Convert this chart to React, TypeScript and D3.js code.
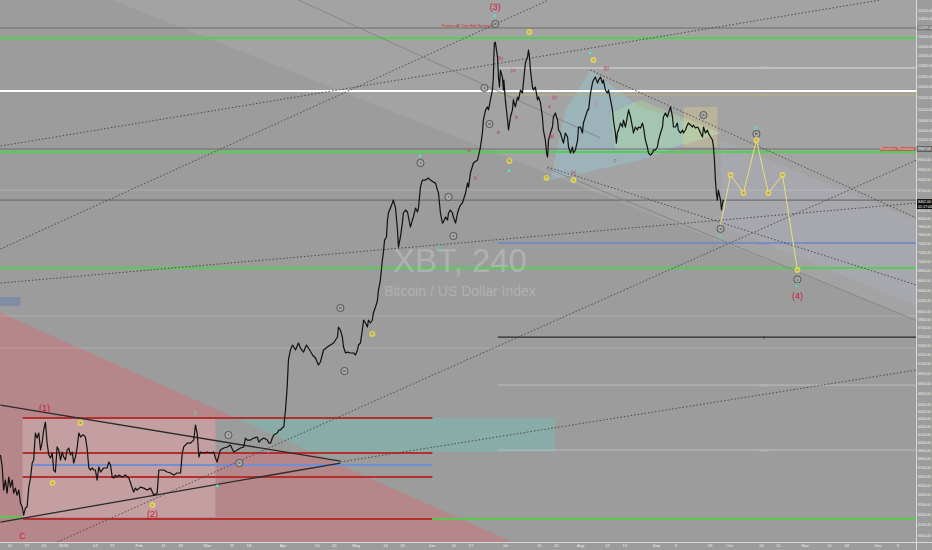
import React from 'react';
import * as d3 from 'd3';

const W = 932;
const H = 550;
const PW = 916;
const PH = 542;
const DAY = 86400000;
const T0 = Date.UTC(2019, 0, 1);
const toDate = (d: number) => new Date(T0 + d * DAY);

// XBT 4h close, [days since 2019-01-01, price]
const priceSeries: [number, number][] = [
  [-25.8, 3849], [-25.1, 3710], [-24.5, 3454], [-23.8, 3562], [-23.1, 3420], [-22.4, 3595], [-21.7, 3486],
  [-21.0, 3562], [-20.4, 3420], [-19.7, 3475], [-19.0, 3401], [-18.3, 3454], [-17.6, 3318], [-16.9, 3278],
  [-16.3, 3197], [-15.6, 3267], [-14.9, 3278], [-14.2, 3486], [-13.5, 3584], [-12.8, 3755], [-12.2, 3790],
  [-11.5, 4120], [-10.8, 4056], [-10.1, 4120], [-9.4, 3909], [-8.7, 4006], [-8.1, 4158], [-7.4, 4262],
  [-6.7, 3994], [-6.0, 3849], [-5.3, 3814], [-4.6, 3873], [-4.0, 3675], [-3.3, 3652], [-2.6, 3946],
  [-1.9, 3909], [-1.2, 3790], [-0.5, 3885], [0.1, 3825], [0.8, 3790], [1.5, 3909], [2.2, 3933], [2.9, 3849],
  [3.6, 3885], [4.2, 3755], [4.9, 3825], [5.6, 3933], [6.3, 4120], [7.0, 4069], [7.7, 4094], [8.3, 4094],
  [9.0, 4069], [9.7, 3933], [10.4, 3698], [11.1, 3675], [11.8, 3698], [12.4, 3675], [13.1, 3675], [13.8, 3562],
  [14.5, 3710], [15.2, 3652], [16.5, 3698], [17.9, 3698], [18.6, 3767], [19.3, 3732], [20.0, 3595], [20.6, 3584],
  [21.3, 3618], [22.0, 3595], [22.7, 3618], [24.1, 3595], [25.4, 3618], [26.8, 3584], [27.5, 3530], [28.2, 3475],
  [28.8, 3433], [29.5, 3475], [30.2, 3454], [31.6, 3486], [32.9, 3475], [34.3, 3454], [35.7, 3475], [37.0, 3401],
  [38.4, 3420], [39.1, 3675], [41.1, 3675], [42.5, 3652], [43.9, 3641], [45.2, 3618], [46.6, 3641], [48.0, 3641],
  [48.7, 3873], [49.3, 3946], [50.7, 3994], [52.1, 3994], [53.4, 4031], [54.1, 4223], [54.8, 4120], [55.5, 3825],
  [56.1, 3885], [57.5, 3873], [58.9, 3885], [60.2, 3873], [61.6, 3885], [62.3, 3814], [63.0, 3767], [63.7, 3849],
  [64.3, 3909], [65.7, 3933], [67.1, 3946], [68.4, 3970], [69.8, 3885], [71.2, 3909], [72.6, 3933], [73.9, 3946],
  [74.6, 4056], [75.3, 4031], [76.7, 4031], [78.0, 4056], [79.4, 4069], [80.1, 4006], [80.8, 4031], [82.1, 4056],
  [83.5, 4031], [84.2, 3994], [84.9, 3994], [85.6, 4056], [86.2, 4094], [87.6, 4120], [88.3, 4158], [88.9, 4158],
  [89.6, 4184], [90.3, 4197], [91.0, 4423], [91.7, 4749], [92.2, 5162], [93.0, 5324], [93.9, 5407], [95.1, 5324],
  [96.3, 5440], [97.1, 5357], [98.4, 5290], [99.6, 5407], [100.9, 5324], [102.1, 5243], [103.3, 5194], [104.5, 5083],
  [105.3, 5130], [106.6, 5324], [108.2, 5374], [109.4, 5407], [110.7, 5440], [112.3, 5542], [112.7, 5716],
  [113.5, 5663], [114.3, 5542], [114.8, 5374], [115.6, 5275], [116.4, 5290], [117.6, 5275], [118.9, 5275],
  [119.7, 5243], [120.5, 5324], [120.9, 5407], [121.7, 5440], [122.5, 5663], [123.0, 5841], [123.8, 5787],
  [124.6, 5716], [125.0, 5841], [125.8, 5787], [126.6, 5841], [127.0, 5968], [127.9, 6080], [128.7, 6213],
  [129.1, 6408], [129.9, 6609], [130.3, 6817], [130.7, 7030], [131.1, 7185], [131.6, 7478], [132.4, 7550],
  [132.8, 7955], [133.2, 8130], [134.0, 8256], [134.8, 8385], [135.2, 8462], [136.1, 8256], [136.9, 7714],
  [137.3, 7318], [138.1, 7550], [138.9, 7880], [139.3, 8130], [140.2, 8205], [141.0, 8155], [141.4, 8030],
  [142.2, 7785], [143.0, 7955], [143.4, 8030], [144.3, 8256], [145.1, 8155], [145.5, 8256], [146.3, 8808],
  [147.1, 9000], [148.4, 9000], [149.6, 9056], [150.4, 9000], [151.6, 8945], [152.5, 8917], [153.3, 8727],
  [153.7, 8647], [154.5, 8130], [155.3, 7880], [155.7, 7905], [156.6, 8030], [157.4, 7955], [157.8, 8130],
  [158.6, 8205], [159.4, 8130], [159.8, 8030], [160.7, 7880], [161.5, 8130], [161.9, 8205], [162.7, 8332],
  [163.5, 8385], [163.9, 8462], [164.8, 8647], [165.6, 8917], [166.0, 8808], [166.8, 9198], [168.0, 9487],
  [169.7, 9575], [170.9, 9968], [171.7, 10409], [172.1, 10835], [173.0, 11179], [173.8, 11283], [174.2, 11179],
  [175.0, 11530], [175.8, 11887], [176.2, 12372], [176.4, 13160], [176.6, 13740], [177.0, 13785], [177.9, 13160],
  [178.3, 12372], [178.7, 11998], [179.1, 12643], [179.9, 12372], [180.3, 11887], [180.5, 12260], [181.1, 11530],
  [182.0, 10835], [182.4, 10506], [183.2, 10938], [184.0, 11179], [184.4, 11530], [185.2, 11283], [186.1, 11634],
  [186.5, 11530], [187.3, 11887], [188.1, 11777], [188.5, 12145], [189.3, 12920], [190.2, 13160], [190.6, 13448],
  [191.0, 13160], [191.4, 12643], [192.2, 11998], [192.6, 11887], [193.4, 11998], [194.3, 11530], [194.7, 11634],
  [195.5, 11423], [196.3, 10938], [196.7, 10506], [197.5, 10185], [198.0, 9785], [198.4, 9664], [198.8, 10185],
  [199.6, 10409], [200.4, 10604], [200.8, 10938], [201.6, 11075], [202.5, 10835], [202.9, 10506], [203.7, 10409],
  [204.5, 10185], [204.9, 10090], [205.7, 10409], [206.6, 10281], [207.0, 9968], [207.8, 9785], [208.6, 9968],
  [209.0, 9785], [209.8, 9876], [210.7, 10185], [211.1, 10604], [211.9, 10604], [212.7, 10409], [213.1, 10735],
  [213.9, 10938], [214.8, 11179], [215.2, 11179], [216.0, 11777], [216.8, 12145], [217.2, 12260], [218.0, 12372],
  [218.9, 12145], [219.3, 12260], [220.1, 12372], [220.9, 12145], [221.3, 12260], [222.1, 11887], [223.0, 11777],
  [223.4, 11887], [224.2, 11530], [225.0, 11179], [225.4, 10835], [226.2, 10409], [226.6, 10090], [227.0, 10409],
  [227.5, 10506], [228.3, 10735], [229.1, 10604], [229.5, 10835], [230.3, 10604], [231.1, 10938], [231.6, 11179],
  [232.4, 10938], [233.2, 10604], [233.6, 10409], [234.4, 10604], [235.2, 10506], [235.7, 10604], [236.5, 10571],
  [237.3, 10735], [237.7, 10604], [238.5, 10185], [239.3, 9968], [239.8, 9785], [240.6, 9724], [241.4, 9785],
  [241.8, 9876], [242.6, 9876], [243.4, 9968], [243.9, 10185], [244.7, 10409], [245.5, 10604], [245.9, 10938],
  [246.7, 11075], [247.5, 10938], [248.0, 11075], [248.8, 11283], [249.6, 10938], [250.0, 10604], [250.8, 10604],
  [251.6, 10735], [252.0, 10506], [252.9, 10409], [253.7, 10506], [254.1, 10409], [254.9, 10506], [255.7, 10669],
  [256.1, 10735], [257.0, 10669], [257.8, 10604], [258.2, 10669], [259.0, 10571], [259.8, 10604], [260.2, 10571],
  [261.1, 10409], [261.9, 10281], [262.3, 10604], [263.1, 10409], [263.9, 10506], [264.3, 10409], [265.2, 10281],
  [266.0, 10185], [266.4, 9968], [266.8, 9575], [267.2, 9000], [267.6, 8647], [268.0, 8462], [268.4, 8727],
  [269.3, 8462], [269.7, 8205], [270.1, 8385], [270.5, 8462],
];

// projected wave (4) path
const forecastPath: [number, number][] = [
  [269.3, 7833], [273.4, 9142], [278.7, 8647], [284.0, 10185], [288.9, 8647], [294.7, 9142], [300.8, 6817],
];

// horizontal levels
const grayLevels = [14399, 9907, 8462];
const greenLevels = [13960, 9815, 6859];
const whiteLevels = [11852];
const faintLevels = [8727, 5914, 5357];
const fibLevels = [12725, 11706, 7410, 5542, 4778, 3909];
const fibLabels = ['0.236', '0.382', '0.786', '1', '1.272', '1.618'];
const fibStart = 178;
const rangeBoxLevels = [4315, 3873, 3596, 3158];
const rangeMidLevel = 3732;
const rangeStart = -16.7;
const rangeEnd = 151.2;
const bottomSupport = 3158;

// trend / fan lines, [day, price] pairs
const dottedLines: [number, number][][] = [
  [[-25.8, 9999], [334.8, 15700]],
  [[-25.8, 7275], [198.8, 15700]],
  [[-2.5, 2942], [349.6, 9575]],
  [[113.5, 3767], [349.6, 5005]],
  [[-25.8, 6548], [349.6, 8384]],
  [[216.0, 12643], [349.6, 8006]],
  [[198.4, 9371], [349.6, 6508]],
];
const thinLines: [number, number][][] = [
  [[96.3, 15700], [220.1, 10250]],
  [[198.0, 9343], [356.0, 5715]],
];
const triangleLines: [number, number][][] = [
  [[-25.8, 4491], [113.5, 3777]],
  [[-25.8, 3129], [113.5, 3755]],
];

// shaded zones
const upperZone: [number, number][] = [[-6.6, 17000], [360, 17000], [360, 5663]];
const redZone: [number, number][] = [[-30, 6062], [184.0, 2942], [190, 2800], [-30, 2800]];
const innerBox: [number, number][] = [[-16.8, 4315], [62.3, 4315], [62.3, 3177], [-16.8, 3177]];
const tealBox: [number, number][] = [[62.3, 4315], [201.6, 4315], [201.6, 3885], [62.3, 3885]];
const blueTriangle: [number, number][] = [[199.6, 9000], [205.7, 11179], [216.0, 12643], [236.5, 11283], [269.3, 10409], [236.5, 9575]];
const greenTriangle: [number, number][] = [[224.2, 11075], [236.5, 11530], [269.3, 10409], [245.5, 9876], [226.2, 9876]];
const beigeBox: [number, number][] = [[254.1, 11283], [268.0, 11283], [268.0, 9968], [254.1, 9968]];
const lavenderZone: [number, number][] = [[269.3, 10185], [360, 7700], [360, 5900], [269.3, 7833]];
const leftBlock: [number, number][] = [[-26, 6272], [-17.6, 6272], [-17.6, 6099], [-26, 6099]];

// wave labels
const bigRedLabels: [number, number, string][] = [
  [177.0, 15411, '(3)'], [300.8, 6300, '(4)'], [-7.8, 4464, '(1)'], [36.5, 3209, '(2)'], [-16.8, 3005, 'C'],
];
const smallRedLabels: [number, number, string][] = [
  [179.1, 13084, '(b)'], [184.4, 12643, '(x)'], [185.7, 10937, 'b'], [178.3, 10441, 'iv'], [201.2, 11599, '(c)'],
  [199.2, 11315, 'a'], [200.0, 10282, '(a)'], [209.0, 9227, '(e)'], [222.5, 12686, '(b)'], [226.2, 9575, 'c'],
  [166.4, 9876, 'iv'], [168.9, 9057, 'b'],
];
const circleLabels: [number, number, string][] = [
  [177.0, 14578, 'iii'], [172.5, 11963, 'ii'], [174.6, 10703, 'iv'], [146.3, 9488, 'v'], [157.8, 8542, 'i'],
  [159.8, 7572, 'ii'], [113.5, 6062, 'iii'], [115.2, 4989, 'iv'], [67.6, 4094, 'i'], [72.1, 3755, 'ii'],
  [262.3, 11004, 'e'], [269.3, 7740, 'a'], [284.0, 10378, 'b'], [300.8, 6620, 'c'],
];
const yellowMarks: [number, number, string][] = [
  [6.97, 4249, 'b'], [-4.5, 3530, 'a'], [36.5, 3298, 'c'], [126.6, 5594, 'b'], [182.8, 9545, 'B'],
  [191.0, 14221, 'x'], [198.0, 9057, 'Y'], [209.0, 9000, 'c'], [217.2, 13040, 'x'],
  [273.4, 9142, 'a'], [278.7, 8647, 'b'], [284.0, 10185, 'c'], [288.9, 8647, 'd'], [294.7, 9142, 'e'], [300.8, 6817, 'z'],
];
const tealMarks: [number, number, string][] = [
  [146.3, 9724, '▲'], [177.0, 14989, '▲'], [182.8, 9285, '▲'], [216.0, 13370, '▲'], [153.8, 7300, 'C'],
  [269.3, 7549, 'C'], [284.0, 10571, 'B'], [300.8, 6508, 'C'], [54.1, 4382, '1'], [63.1, 3508, '▲'],
];
const pinkMarks: [number, number, string][] = [
  [113.5, 5877, '•'], [84.0, 3885, '•'], [218.4, 11420, 'b'], [240.6, 9343, 'c'],
];

// axis labels
const priceTicks = [
  15600, 15200, 14800, 14400, 14000, 13600, 13200, 12800, 12400, 12000, 11600, 11200, 10800, 10500, 10200,
  9900, 9600, 9300, 9000, 8700, 8400, 8200, 8000, 7800, 7600, 7400, 7200, 7000, 6800, 6600, 6400, 6200, 6000,
  5850, 5700, 5550, 5400, 5250, 5100, 4950, 4800, 4650, 4500, 4400, 4300, 4200, 4100, 4000, 3900, 3800, 3700,
  3600, 3500, 3400, 3300, 3200, 3100, 3000,
];
const timeTicks: [string, string][] = [
  ['2018-12-10', '10'], ['2018-12-17', '17'], ['2018-12-24', '24'], ['2019-01-01', '2019'], ['2019-01-14', '14'],
  ['2019-01-21', '21'], ['2019-02-01', 'Feb'], ['2019-02-11', '11'], ['2019-02-18', '18'], ['2019-03-01', 'Mar'],
  ['2019-03-11', '11'], ['2019-03-18', '18'], ['2019-04-01', 'Apr'], ['2019-04-15', '15'], ['2019-04-22', '22'],
  ['2019-05-01', 'May'], ['2019-05-13', '13'], ['2019-05-20', '20'], ['2019-06-01', 'Jun'], ['2019-06-10', '10'],
  ['2019-06-17', '17'], ['2019-07-01', 'Jul'], ['2019-07-15', '15'], ['2019-07-22', '22'], ['2019-08-01', 'Aug'],
  ['2019-08-12', '12'], ['2019-08-19', '19'], ['2019-09-01', 'Sep'], ['2019-09-09', '9'], ['2019-09-23', '23'],
  ['2019-10-01', 'Oct'], ['2019-10-14', '14'], ['2019-10-21', '21'], ['2019-11-01', 'Nov'], ['2019-11-11', '11'],
  ['2019-11-18', '18'], ['2019-12-01', 'Dec'], ['2019-12-09', '9'],
];
const lastPrice = 8462;

const App: React.FC = () => {
  const x = d3.scaleTime()
    .domain([new Date(Date.UTC(2018, 11, 6)), new Date(Date.UTC(2018, 11, 6) + 375.4 * DAY)])
    .range([0, PW]);
  const y = d3.scaleLog().domain([2942, 15700]).range([PH, 0]);
  const px = (d: number) => x(toDate(d));

  const line = d3.line<[number, number]>().x(p => px(p[0])).y(p => y(p[1]));
  const area = (pts: [number, number][]) => line(pts) + 'Z';

  const font = 'Liberation Sans, Arial, sans-serif';
  const fibColors = ['#c9c9c9', '#b8b27a', '#6d86c9', '#2a2a2a', '#bdbdbd', '#bdbdbd'];
  const fibWidths = [1.3, 1, 1.3, 1.3, 1, 1];

  const hLine = (p: number, d0: number | null, d1: number | null, stroke: string, w: number, key: string, op = 1) => (
    <line key={key} x1={d0 === null ? 0 : px(d0)} x2={d1 === null ? PW : px(d1)} y1={y(p)} y2={y(p)}
      stroke={stroke} strokeWidth={w} opacity={op} />
  );

  return (
    <svg width={W} height={H} style={{ position: 'absolute', left: 0, top: 0, background: '#9c9c9c' }}>
      <defs>
        <clipPath id="plot"><rect x={0} y={0} width={PW} height={PH} /></clipPath>
      </defs>
      <rect x={0} y={0} width={W} height={H} fill="#9c9c9c" />
      <g clipPath="url(#plot)">
        {/* shaded zones */}
        <path d={area(upperZone)} fill="#ffffff" opacity={0.08} />
        <path d={area(lavenderZone)} fill="#c8c8ff" opacity={0.12} />
        <path d={area(redZone)} fill="#e85a66" opacity={0.32} />
        <path d={area(innerBox)} fill="#ffffff" opacity={0.2} />
        <path d={area(tealBox)} fill="#5fd0c8" opacity={0.3} />
        <path d={area(blueTriangle)} fill="#8fdcf0" opacity={0.3} />
        <path d={area(greenTriangle)} fill="#b4f0a0" opacity={0.3} />
        <path d={area(beigeBox)} fill="#f0dc8c" opacity={0.3} />
        <path d={area(leftBlock)} fill="#7486a8" opacity={0.7} />

        {/* horizontal levels */}
        {faintLevels.map((p, i) => hLine(p, null, null, '#ffffff', 1, 'f' + i, 0.18))}
        {grayLevels.map((p, i) => hLine(p, null, null, '#6f6f6f', 1.2, 'g' + i))}
        {greenLevels.map((p, i) => hLine(p, null, null, '#52d052', 2, 'gr' + i))}
        {whiteLevels.map((p, i) => hLine(p, null, null, '#ffffff', 2, 'w' + i))}
        {fibLevels.map((p, i) => hLine(p, fibStart, null, fibColors[i], fibWidths[i], 'fib' + i))}
        {fibLevels.map((p, i) => (
          <text key={'fl' + i} x={px(287)} y={y(p) + 1.5} fontSize={4} fill={fibColors[i]} textAnchor="middle"
            fontFamily={font}>{fibLabels[i]}</text>
        ))}
        {rangeBoxLevels.map((p, i) => hLine(p, rangeStart, rangeEnd, '#b3302c', 2, 'r' + i))}
        {hLine(rangeMidLevel, rangeStart + 4.4, rangeEnd, '#6e8fd6', 2, 'mid')}
        {hLine(bottomSupport, rangeEnd, null, '#58c84e', 2, 'bs')}
        {hLine(3177, null, rangeStart, '#58c84e', 2, 'bs2')}

        {/* diagonals */}
        {dottedLines.map((l, i) => (
          <path key={'d' + i} d={line(l)!} fill="none" stroke="#4a4a4a" strokeWidth={1} strokeDasharray="1.5,2" />
        ))}
        {thinLines.map((l, i) => (
          <path key={'t' + i} d={line(l)!} fill="none" stroke="#808080" strokeWidth={0.8} />
        ))}
        {triangleLines.map((l, i) => (
          <path key={'tr' + i} d={line(l)!} fill="none" stroke="#2b2b2b" strokeWidth={1.3} />
        ))}

        {/* watermark */}
        <text x={460} y={y(6859) + 4} fontSize={33} fill="#ffffff" opacity={0.2} textAnchor="middle"
          fontFamily={font}>XBT, 240</text>
        <text x={460} y={y(6859) + 28} fontSize={14} fill="#ffffff" opacity={0.2} textAnchor="middle"
          fontFamily={font}>Bitcoin / US Dollar Index</text>

        {/* price */}
        <path d={line(priceSeries)!} fill="none" stroke="#111111" strokeWidth={1.2} strokeLinejoin="round" />
        <path d={line(forecastPath)!} fill="none" stroke="#e8e07a" strokeWidth={1} />

        {/* labels */}
        <text x={px(166)} y={y(14399) - 1} fontSize={3.5} fill="#d02828" textAnchor="middle" fontFamily={font}>
          Previous All Time High Resistance
        </text>
        {circleLabels.map(([d, p, t], i) => (
          <g key={'c' + i}>
            <circle cx={px(d)} cy={y(p)} r={3.6} fill="#a9a9a9" stroke="#333" strokeWidth={0.7} />
            <text x={px(d)} y={y(p) + 1.4} fontSize={4} textAnchor="middle" fill="#222" fontFamily={font}>{t}</text>
          </g>
        ))}
        {yellowMarks.map(([d, p, t], i) => (
          <g key={'y' + i}>
            <circle cx={px(d)} cy={y(p)} r={3} fill="#e6d85a" opacity={0.85} />
            <text x={px(d)} y={y(p) + 1.3} fontSize={3.8} textAnchor="middle" fill="#7a6a10" fontFamily={font}>{t}</text>
          </g>
        ))}
        {smallRedLabels.map(([d, p, t], i) => (
          <text key={'sr' + i} x={px(d)} y={y(p) + 1.5} fontSize={4.5} textAnchor="middle" fill="#c2304a"
            fontFamily={font}>{t}</text>
        ))}
        {tealMarks.map(([d, p, t], i) => (
          <text key={'tm' + i} x={px(d)} y={y(p) + 2} fontSize={6} textAnchor="middle" fill="#4fe0c0"
            fontFamily={font}>{t}</text>
        ))}
        {pinkMarks.map(([d, p, t], i) => (
          <text key={'pm' + i} x={px(d)} y={y(p) + 1.5} fontSize={5} textAnchor="middle" fill="#e060d0"
            fontFamily={font}>{t}</text>
        ))}
        {bigRedLabels.map(([d, p, t], i) => (
          <text key={'br' + i} x={px(d)} y={y(p) + 3.5} fontSize={9} textAnchor="middle" fill="#c8203a"
            fontFamily={font}>{t}</text>
        ))}
        <rect x={880} y={y(9907) - 2} width={35} height={4} fill="#d04040" opacity={0.7} />
        <text x={897} y={y(9907) + 1.2} fontSize={3.2} textAnchor="middle" fill="#ffdddd" fontFamily={font}>
          Resistance / Resistance
        </text>
      </g>

      {/* axes */}
      <line x1={PW + 0.5} x2={PW + 0.5} y1={0} y2={H} stroke="#d8d8d8" strokeWidth={1} />
      <line x1={0} x2={W} y1={PH + 0.5} y2={PH + 0.5} stroke="#d8d8d8" strokeWidth={1} />
      {priceTicks.filter(p => Math.abs(y(p) - y(lastPrice)) > 8 && y(p) > 3).map(p => (
        <g key={'pt' + p}>
          <line x1={PW} x2={PW + 1.5} y1={y(p)} y2={y(p)} stroke="#d8d8d8" strokeWidth={0.6} />
          <text x={PW + 2} y={y(p) + 1.3} fontSize={3.6} fill="#ececec" fontFamily={font}>{p.toFixed(2)}</text>
        </g>
      ))}
      {timeTicks.map(([s, t]) => {
        const xx = x(new Date(s + 'T00:00:00Z'));
        return (
          <text key={'tt' + s} x={xx} y={H - 3} fontSize={4.2} fill="#ececec" textAnchor="middle"
            fontFamily={font}>{t}</text>
        );
      })}
      <rect x={PW + 1} y={y(14399) - 2.5} width={W - PW - 1} height={5} fill="#7a7a7a" />
      <text x={PW + 2} y={y(14399) + 1.3} fontSize={3.6} fill="#f0f0f0" fontFamily={font}>14399.00</text>
      <rect x={PW + 1} y={y(9907) - 2.5} width={W - PW - 1} height={5} fill="#808080" stroke="#333" strokeWidth={0.5} />
      <text x={PW + 2} y={y(9907) + 1.3} fontSize={3.6} fill="#f0f0f0" fontFamily={font}>9907.00</text>
      <rect x={PW + 1} y={y(lastPrice) - 1} width={W - PW - 1} height={10} fill="#111111" />
      <text x={PW + 2} y={y(lastPrice) + 3.2} fontSize={3.6} fill="#ffffff" fontFamily={font}>{lastPrice.toFixed(2)}</text>
      <text x={PW + 2} y={y(lastPrice) + 7.6} fontSize={3.6} fill="#ffffff" fontFamily={font}>01:17:04</text>
    </svg>
  );
};

export default App;
